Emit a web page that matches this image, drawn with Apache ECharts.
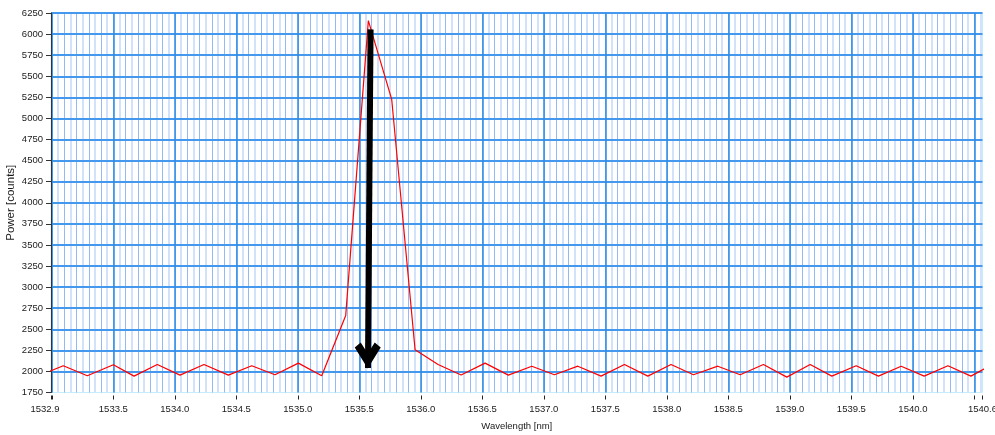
<!DOCTYPE html>
<html>
<head>
<meta charset="utf-8">
<script src="https://cdn.jsdelivr.net/npm/echarts@6/dist/echarts.min.js"></script>
<style>
  html, body { margin: 0; padding: 0; background: #fff; }
  #chart { width: 995px; height: 435px; }
</style>
</head>
<body>
<div id="chart"></div>
<script>
// spectrum samples
const wavelength = [1532.904, 1533.093, 1533.288, 1533.500, 1533.668, 1533.857, 1534.042, 1534.237, 1534.435, 1534.625,
  1534.814, 1535.004, 1535.194, 1535.389, 1535.573, 1535.763, 1535.953, 1536.140, 1536.327, 1536.522,
  1536.711, 1536.902, 1537.086, 1537.276, 1537.465, 1537.655, 1537.845, 1538.034, 1538.216, 1538.414,
  1538.596, 1538.785, 1538.975, 1539.165, 1539.341, 1539.539, 1539.720, 1539.905, 1540.092, 1540.285,
  1540.472, 1540.661]
const power = [1955, 2067, 1948, 2079, 1944, 2082, 1956, 2082, 1956, 2067,
  1960, 2098, 1948, 2664, 6160, 5225, 2257, 2082, 1958, 2098,
  1956, 2062, 1960, 2062, 1944, 2082, 1944, 2082, 1960, 2062,
  1960, 2082, 1932, 2082, 1944, 2067, 1944, 2062, 1944, 2067,
  1944, 2095]

const xMin = 1532.993
const xMax = 1540.566
const xLabelValues = [xMin, 1533.5, 1534.0, 1534.5, 1535.0, 1535.5, 1536.0, 1536.5, 1537.0,
  1537.5, 1538.0, 1538.5, 1539.0, 1539.5, 1540.0, xMax]
const xLabelTexts = ['1532.9', '1533.5', '1534.0', '1534.5', '1535.0', '1535.5', '1536.0', '1536.5', '1537.0',
  '1537.5', '1538.0', '1538.5', '1539.0', '1539.5', '1540.0', '1540.6']
const xTickValues = [xMin, 1533.0, 1533.5, 1534.0, 1534.5, 1535.0, 1535.5, 1536.0, 1536.5, 1537.0,
  1537.5, 1538.0, 1538.5, 1539.0, 1539.5, 1540.0, 1540.5, xMax]

// arrow annotation (shaft top / bottom, head centre)
const arrowTop = [1535.591, 6056]
const arrowBottom = [1535.570, 2040]
const arrowHead = [1535.568, 2189]

// minor grid: every 0.1 nm and the 0.05 nm lines in between
const minorTenths = []
const minorHalves = []
for (let k = 0; 1533.0 + k * 0.05 <= xMax; k++) {
  const v = +(1533.0 + k * 0.05).toFixed(2)
  if (k % 2 === 0) minorTenths.push(v)
  else minorHalves.push(v)
}

const font = 'Liberation Sans, Arial, sans-serif'
const textColor = '#1a1a1a'

function minorAxis(values, color, width) {
  return {
    type: 'value', min: xMin, max: xMax, z: 0,
    axisLine: { show: false },
    axisLabel: { show: false },
    axisTick: { show: false, customValues: values },
    splitLine: { show: true, lineStyle: { color: color, width: width } },
  }
}

const chart = echarts.init(document.getElementById('chart'))
chart.setOption({
  animation: false,
  backgroundColor: '#fff',
  grid: {
    left: 51, top: 13, right: 12.5, bottom: 42.5,
    outerBoundsMode: 'none',
    show: true, backgroundColor: '#fff', borderColor: '#c4eefc', borderWidth: 1,
  },
  xAxis: [{
    type: 'value', min: xMin, max: xMax, z: 2, offset: 3,
    name: 'Wavelength [nm]', nameLocation: 'middle', nameGap: 26, nameMoveOverlap: false,
    nameTextStyle: { color: textColor, fontSize: 9.5, fontFamily: font },
    axisLine: { show: false },
    axisTick: { show: true, length: 4, customValues: xTickValues, lineStyle: { color: '#222' } },
    axisLabel: {
      customValues: xLabelValues, margin: 9, color: textColor, fontSize: 9.5, fontFamily: font,
      formatter: (v) => {
        let best = 0
        xLabelValues.forEach((t, i) => { if (Math.abs(t - v) < Math.abs(xLabelValues[best] - v)) best = i })
        return best === 0 ? '{l|' + xLabelTexts[0] + '}' : xLabelTexts[best]
      },
      rich: { l: { padding: [0, 12, 0, 0], color: textColor, fontSize: 9.5, fontFamily: font } },
    },
    splitLine: { show: true, showMinLine: false, showMaxLine: false, lineStyle: { color: '#2b8be6', width: 1.5 } },
  },
  minorAxis(minorTenths, '#93baf4', 1),
  minorAxis(minorHalves, '#d2e2fb', 2)],
  yAxis: {
    type: 'value', min: 1750, max: 6250, interval: 250, z: 2,
    name: 'Power [counts]', nameLocation: 'middle', nameGap: 34, nameMoveOverlap: false,
    nameTextStyle: { color: textColor, fontSize: 11.5, fontFamily: font },
    axisLine: { show: true, lineStyle: { color: '#333', width: 1 } },
    axisTick: { show: true, length: 5, lineStyle: { color: '#333' } },
    axisLabel: { margin: 8, color: textColor, fontSize: 9.5, fontFamily: font, formatter: (v) => String(v) },
    splitLine: { show: true, showMinLine: false, lineStyle: { color: '#4499ee', width: 2 } },
  },
  series: [{
    type: 'line',
    xAxisIndex: 0,
    data: wavelength.map((w, i) => [w, power[i]]),
    symbol: 'none',
    clip: true,
    lineStyle: { color: '#ff0000', width: 1.2 },
    z: 3,
    markLine: {
      silent: true,
      symbol: ['none', 'none'],
      label: { show: false },
      lineStyle: { color: '#000', width: 6, type: 'solid', cap: 'butt' },
      data: [[{ coord: arrowTop }, { coord: arrowBottom }]],
    },
    markPoint: {
      silent: true,
      symbol: 'path://M0,5 L6,0 L13,11 L20,0 L26,5 L13,26 Z',
      symbolSize: [26, 26],
      itemStyle: { color: '#000' },
      label: { show: false },
      data: [{ coord: arrowHead }],
    },
  }],
})
</script>
</body>
</html>
